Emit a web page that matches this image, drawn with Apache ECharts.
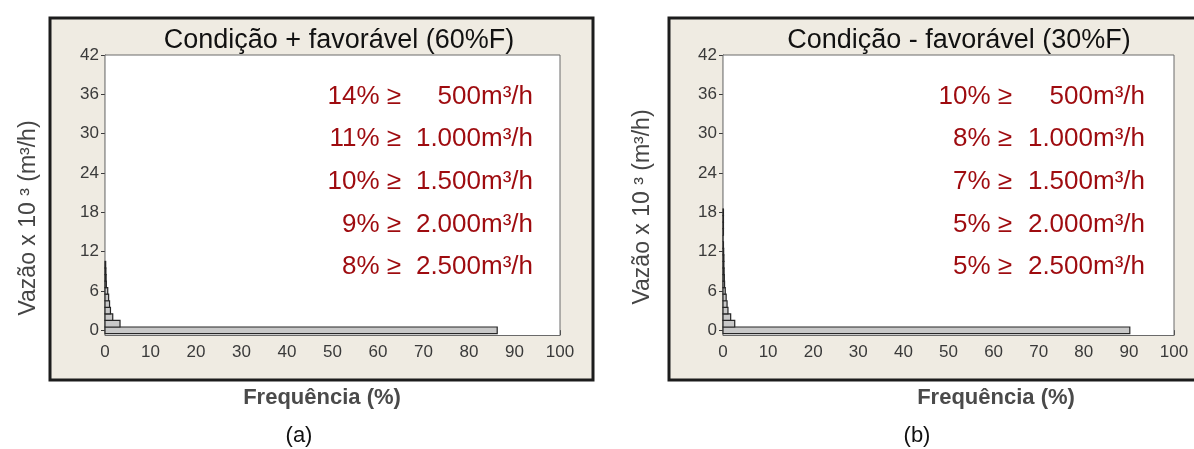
<!DOCTYPE html>
<html>
<head>
<meta charset="utf-8">
<script src="https://cdn.jsdelivr.net/npm/echarts@6/dist/echarts.min.js"></script>
<style>
  html, body { margin: 0; padding: 0; background: #ffffff; }
  #chart { width: 1194px; height: 449px; }
</style>
</head>
<body>
<div id="chart"></div>
<script>
// Flow bins (x 10^3 m3/h, bin centres) and frequency of each bin (%)
const flowBinsA = [0, 1, 2, 3, 4, 5, 6, 7, 8, 9, 10];
const freqA     = [86.2, 3.3, 1.7, 1.2, 1.0, 0.8, 0.6, 0.3, 0.25, 0.2, 0.15];

const flowBinsB = [0, 1, 2, 3, 4, 5, 6, 7, 8, 9, 10, 11, 12, 13, 14, 15, 16, 17, 18];
const freqB     = [90.2, 2.6, 1.7, 1.1, 0.9, 0.7, 0.5, 0.35, 0.3, 0.25, 0.2, 0.2, 0.15, 0.1, 0, 0.1, 0.1, 0.1, 0.1];

// Axis ticks
const yTicks = [0, 6, 12, 18, 24, 30, 36, 42];
const xTicks = [0, 10, 20, 30, 40, 50, 60, 70, 80, 90, 100];

// Exceedance notes
const thresholds = ['500', '1.000', '1.500', '2.000', '2.500'];
const exceedA = ['14%', '11%', '10%', '9%', '8%'];
const exceedB = ['10%', '8%', '7%', '5%', '5%'];

const titles = ['Condição + favorável (60%F)', 'Condição - favorável (30%F)'];
const yName = 'Vazão x 10 ³ (m³/h)';
const xName = 'Frequência (%)';
const panelTags = ['(a)', '(b)'];

const FONT = '"Liberation Sans", Arial, sans-serif';
const NOTE_RED = '#9e0b0f';

function histRender(params, api) {
  const k = api.value(0);
  const v = api.value(1);
  const a = api.coord([0, k + 0.5]);
  const b = api.coord([v, k - 0.5]);
  return {
    type: 'rect',
    shape: { x: a[0], y: a[1], width: Math.max(b[0] - a[0], 0), height: b[1] - a[1] },
    style: { fill: '#c8c8c8', stroke: '#262626', lineWidth: 1.2 }
  };
}

function makeX(idx) {
  return {
    type: 'value', gridIndex: idx, min: xTicks[0], max: xTicks[xTicks.length - 1], interval: 10,
    axisLine: { show: true, lineStyle: { color: '#3a3a3a', width: 1.2 } },
    axisTick: { show: true, length: 5, lineStyle: { color: '#3a3a3a' } },
    axisLabel: { color: '#3a3a3a', fontSize: 17, fontFamily: FONT, margin: 8 },
    splitLine: { show: false }
  };
}
function makeY(idx) {
  return {
    type: 'value', gridIndex: idx, min: -0.8, max: 42,
    axisLine: { show: true, lineStyle: { color: '#3a3a3a', width: 1.2 } },
    axisTick: { show: true, length: 4, customValues: yTicks, lineStyle: { color: '#3a3a3a' } },
    axisLabel: { color: '#3a3a3a', fontSize: 17, fontFamily: FONT, margin: 6, customValues: yTicks },
    splitLine: { show: false }
  };
}

const graphics = [];
// Panel frames
[[50, 18, 543, 362], [669, 18, 560, 362]].forEach(function (r) {
  graphics.push({
    type: 'rect', z: -10,
    shape: { x: r[0], y: r[1], width: r[2], height: r[3] },
    style: { fill: '#efebe2', stroke: '#1c1c1c', lineWidth: 3 }
  });
});

// Titles
[[339, titles[0]], [959, titles[1]]].forEach(function (t) {
  graphics.push({
    type: 'text', z: 20, x: t[0], y: 41,
    style: { text: t[1], font: '27px ' + FONT, fill: '#111111', align: 'center', verticalAlign: 'middle' }
  });
});

// Exceedance notes
const noteBase = [106, 148, 191, 234, 276];
function addNotes(pcts, geX, rightX) {
  pcts.forEach(function (p, i) {
    graphics.push({
      type: 'text', z: 20, x: geX, y: noteBase[i] - 9,
      style: { text: p + ' ≥', font: '26px ' + FONT, fill: NOTE_RED, align: 'right', verticalAlign: 'middle' }
    });
    graphics.push({
      type: 'text', z: 20, x: rightX, y: noteBase[i] - 9,
      style: { text: thresholds[i] + 'm³/h', font: '26px ' + FONT, fill: NOTE_RED, align: 'right', verticalAlign: 'middle' }
    });
  });
}
addNotes(exceedA, 401, 533);
addNotes(exceedB, 1012, 1145);

// Axis names and panel tags
[[29, 218], [643, 207]].forEach(function (p) {
  graphics.push({
    type: 'text', z: 20, x: p[0], y: p[1], rotation: Math.PI / 2,
    style: { text: yName, font: '23px ' + FONT, fill: '#454545', align: 'center', verticalAlign: 'middle' }
  });
});
[[322, 398], [996, 398]].forEach(function (p) {
  graphics.push({
    type: 'text', z: 20, x: p[0], y: p[1],
    style: { text: xName, font: 'bold 22px ' + FONT, fill: '#4a4a4a', align: 'center', verticalAlign: 'middle' }
  });
});
[[299, 436, panelTags[0]], [917, 436, panelTags[1]]].forEach(function (p) {
  graphics.push({
    type: 'text', z: 20, x: p[0], y: p[1],
    style: { text: p[2], font: '22px ' + FONT, fill: '#111111', align: 'center', verticalAlign: 'middle' }
  });
});

const chart = echarts.init(document.getElementById('chart'), null, { renderer: 'canvas' });
chart.setOption({
  animation: false,
  backgroundColor: '#ffffff',
  grid: [
    { left: 105, right: 1194 - 560, top: 55, bottom: 449 - 335.5, show: true, backgroundColor: '#ffffff', borderColor: '#6a6a6a', borderWidth: 1, z: 1 },
    { left: 723, right: 1194 - 1174, top: 55, bottom: 449 - 335.5, show: true, backgroundColor: '#ffffff', borderColor: '#6a6a6a', borderWidth: 1, z: 1 }
  ],
  xAxis: [makeX(0), makeX(1)],
  yAxis: [makeY(0), makeY(1)],
  series: [
    { type: 'custom', xAxisIndex: 0, yAxisIndex: 0, renderItem: histRender, encode: { x: 1, y: 0 },
      data: flowBinsA.map(function (k, i) { return [k, freqA[i]]; }), z: 5 },
    { type: 'custom', xAxisIndex: 1, yAxisIndex: 1, renderItem: histRender, encode: { x: 1, y: 0 },
      data: flowBinsB.map(function (k, i) { return [k, freqB[i]]; }), z: 5 }
  ],
  graphic: graphics
});
</script>
</body>
</html>
